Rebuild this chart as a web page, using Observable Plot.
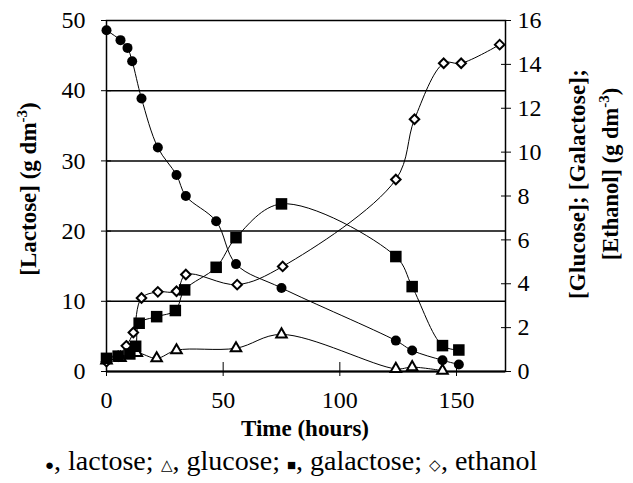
<!DOCTYPE html>
<html>
<head>
<meta charset="utf-8">
<script src="https://cdn.jsdelivr.net/npm/d3@7"></script>
<script src="https://cdn.jsdelivr.net/npm/@observablehq/plot@0.6"></script>
<style>
  body { margin: 0; background: #fff; }
  #chart svg { display: block; }
  #legend { font-family: "Liberation Serif", "Times New Roman", serif; font-size: 28px; color: #000; padding-left: 45px; line-height: 32px; white-space: nowrap; }
  #legend .s { font-size: 15px; }
</style>
</head>
<body>
<div id="chart"></div>
<div id="legend"><span class="s">●</span>, lactose; <span class="s">△</span>, glucose; <span class="s">■</span>, galactose; <span class="s">◇</span>, ethanol</div>
<script>
// Data (time in hours)
const lactoseTime = [0, 6, 9, 11, 15, 22, 30, 34, 47, 55.5, 75, 124, 131, 144, 151];
const lactoseVal  = [48.6, 47.2, 46.1, 44.2, 38.9, 31.9, 28.0, 25.0, 21.4, 15.3, 11.9, 4.4, 3.0, 1.6, 1.0];

const glucoseTime = [0, 6, 13, 21.5, 30, 55.5, 75, 124, 131, 144];
const glucoseVal  = [0.5, 0.62, 0.85, 0.6, 0.97, 1.06, 1.69, 0.12, 0.2, 0.04];

const galactoseTime = [0, 5, 10, 12.5, 14, 21.5, 29.5, 33.5, 47, 55.5, 75, 124, 131, 144, 151];
const galactoseVal  = [0.6, 0.7, 0.8, 1.15, 2.2, 2.5, 2.78, 3.72, 4.75, 6.1, 7.64, 5.24, 3.87, 1.18, 0.98];

const ethanolTime = [0, 5, 8.5, 11.5, 15, 22, 30, 34, 56, 75.5, 124, 132, 144.5, 152, 168.5];
const ethanolVal  = [0.45, 0.7, 1.17, 1.78, 3.35, 3.63, 3.66, 4.42, 3.96, 4.79, 8.75, 11.5, 14.05, 14.05, 14.9];

const xTicks = [0, 50, 100, 150];
const leftTicks = [0, 10, 20, 30, 40, 50];
const rightTicks = [0, 2, 4, 6, 8, 10, 12, 14, 16];
const leftMax = 50, rightMax = 16;

const toLeft = v => v * leftMax / rightMax;
const mk = (ts, vs, f = v => v) => ts.map((t, i) => ({t, v: f(vs[i])}));
const lactose = mk(lactoseTime, lactoseVal);
const glucose = mk(glucoseTime, glucoseVal, toLeft);
const galactose = mk(galactoseTime, galactoseVal, toLeft);
const ethanol = mk(ethanolTime, ethanolVal, toLeft);

const W = 633, H = 445;
const font = "Liberation Serif, Times New Roman, serif";
const lineOpts = {x: "t", y: "v", curve: "catmull-rom", stroke: "black", strokeWidth: 1};

const plot = Plot.plot({
  width: W, height: H,
  marginLeft: 106, marginRight: 128, marginTop: 20, marginBottom: 74,
  style: {fontFamily: font, fontSize: "24px", color: "black", background: "white"},
  x: {domain: [0, 171], label: null},
  y: {domain: [0, leftMax], label: null},
  marks: [
    Plot.ruleY(leftTicks.filter(d => d > 0 && d < leftMax), {stroke: "black", strokeWidth: 1.5}),
    Plot.frame({stroke: "black", strokeWidth: 1.5}),
    Plot.ruleY([0], {stroke: "black", strokeWidth: 2}),
    // crossing ticks
    Plot.axisY({ticks: leftTicks, tickSize: 10, dx: 5, text: null, label: null, strokeWidth: 1}),
    Plot.axisY({anchor: "right", ticks: rightTicks.map(toLeft), tickSize: 10, dx: -5, text: null, label: null, strokeWidth: 1}),
    Plot.axisX({ticks: xTicks, tickSize: 14, dy: -9, text: null, label: null, strokeWidth: 1}),
    // tick labels
    Plot.axisY({ticks: leftTicks, tickSize: 0, tickPadding: 21, label: null, fontSize: 24}),
    Plot.axisY({anchor: "right", ticks: rightTicks.map(toLeft), tickSize: 0, tickPadding: 12,
      tickFormat: d => String(Math.round(d * rightMax / leftMax)), label: null, fontSize: 24}),
    Plot.axisX({ticks: xTicks, tickSize: 0, tickPadding: 19, label: null, fontSize: 24}),
    // series lines
    Plot.line(lactose, lineOpts),
    Plot.line(glucose, lineOpts),
    Plot.line(galactose, lineOpts),
    Plot.line(ethanol, lineOpts),
    // markers
    Plot.dot(glucose, {x: "t", y: "v", symbol: "triangle", r: 3.9, fill: "white", stroke: "black", strokeWidth: 2}),
    Plot.dot(ethanol, {x: "t", y: "v", symbol: "diamond2", r: 4.3, fill: "white", stroke: "black", strokeWidth: 2}),
    Plot.dot(galactose, {x: "t", y: "v", symbol: "square", r: 6.5, fill: "black", stroke: "none"}),
    Plot.dot(lactose, {x: "t", y: "v", symbol: "circle", r: 5, fill: "black", stroke: "none"})
  ]
});
document.getElementById("chart").appendChild(plot);

// Axis titles (bold serif, with superscripts)
const svg = d3.select(plot);
function title(x, y, rotate, size, spacing, parts) {
  const t = svg.append("text")
    .attr("transform", `translate(${x},${y}) rotate(${rotate})`)
    .attr("text-anchor", "middle")
    .attr("font-family", font).attr("font-weight", "bold").attr("font-size", size)
    .attr("letter-spacing", spacing)
    .attr("fill", "black");
  parts.forEach(p => {
    const s = t.append("tspan").text(p.text);
    if (p.sup) s.attr("dy", -9).attr("font-size", 15);
    if (p.after) s.attr("dy", 9);
  });
}
title(36, 189, -90, 23, 0, [{text: "[Lactose] (g dm"}, {text: "-3", sup: true}, {text: ")", after: true}]);
title(585, 184, -90, 23, 0.2, [{text: "[Glucose]; [Galactose];"}]);
title(618, 174, -90, 22.5, 0, [{text: "[Ethanol] (g dm"}, {text: "-3", sup: true}, {text: ")", after: true}]);
title(305, 436, 0, 23, 0, [{text: "Time (hours)"}]);
</script>
</body>
</html>
